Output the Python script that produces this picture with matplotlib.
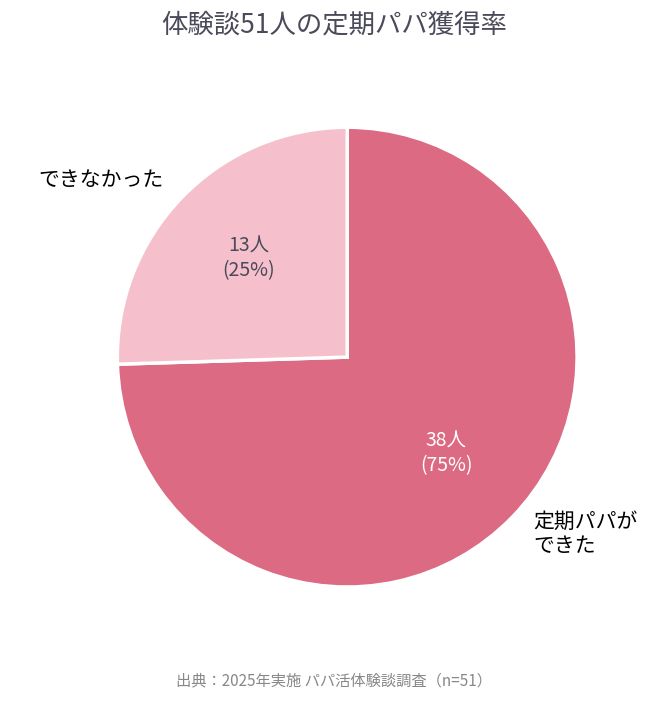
import matplotlib
matplotlib.use("Agg")
import matplotlib.pyplot as plt

plt.rcParams['font.family'] = ['Noto Sans CJK JP', 'DejaVu Sans']

labels = ['定期パパが\nできた', 'できなかった']
counts = [38, 13]
colors = ['#DB6A82', '#F5C0CC']
inner_colors = ['white', '#4a4a5a']

fig = plt.figure(figsize=(6.69, 7.03), dpi=100)
ax = fig.add_axes([0.175, 0.165, 0.688, 0.654])
total = sum(counts)
wedges, _ = ax.pie(counts, colors=colors, startangle=90, counterclock=False,
                   wedgeprops=dict(edgecolor='white', linewidth=2.5))
ax.set_xlim(-1, 1)
ax.set_ylim(-1, 1)
ax.set_aspect('equal')
ax.axis('off')

inner_pos = [(0.43, -0.42), (-0.43, 0.43)]
for c, pos, col in zip(counts, inner_pos, inner_colors):
    ax.text(pos[0], pos[1], f"{c}人\n({round(c / total * 100)}%)", ha='center', va='center',
            fontsize=14, color=col, linespacing=1.2)

ax.text(0.81, -0.77, labels[0], ha='left', va='center', fontsize=15, color='black', linespacing=1.1)
ax.text(-0.80, 0.77, labels[1], ha='right', va='center', fontsize=15, color='black')

fig.text(0.5, 0.965, '体験談51人の定期パパ獲得率', ha='center', va='center', fontsize=19, color='#4a4a5a')
fig.text(0.5, 0.032, '出典：2025年実施 パパ活体験談調査（n=51）', ha='center', va='center', fontsize=11, color='#888888')

fig.savefig('out.png', dpi=100)
